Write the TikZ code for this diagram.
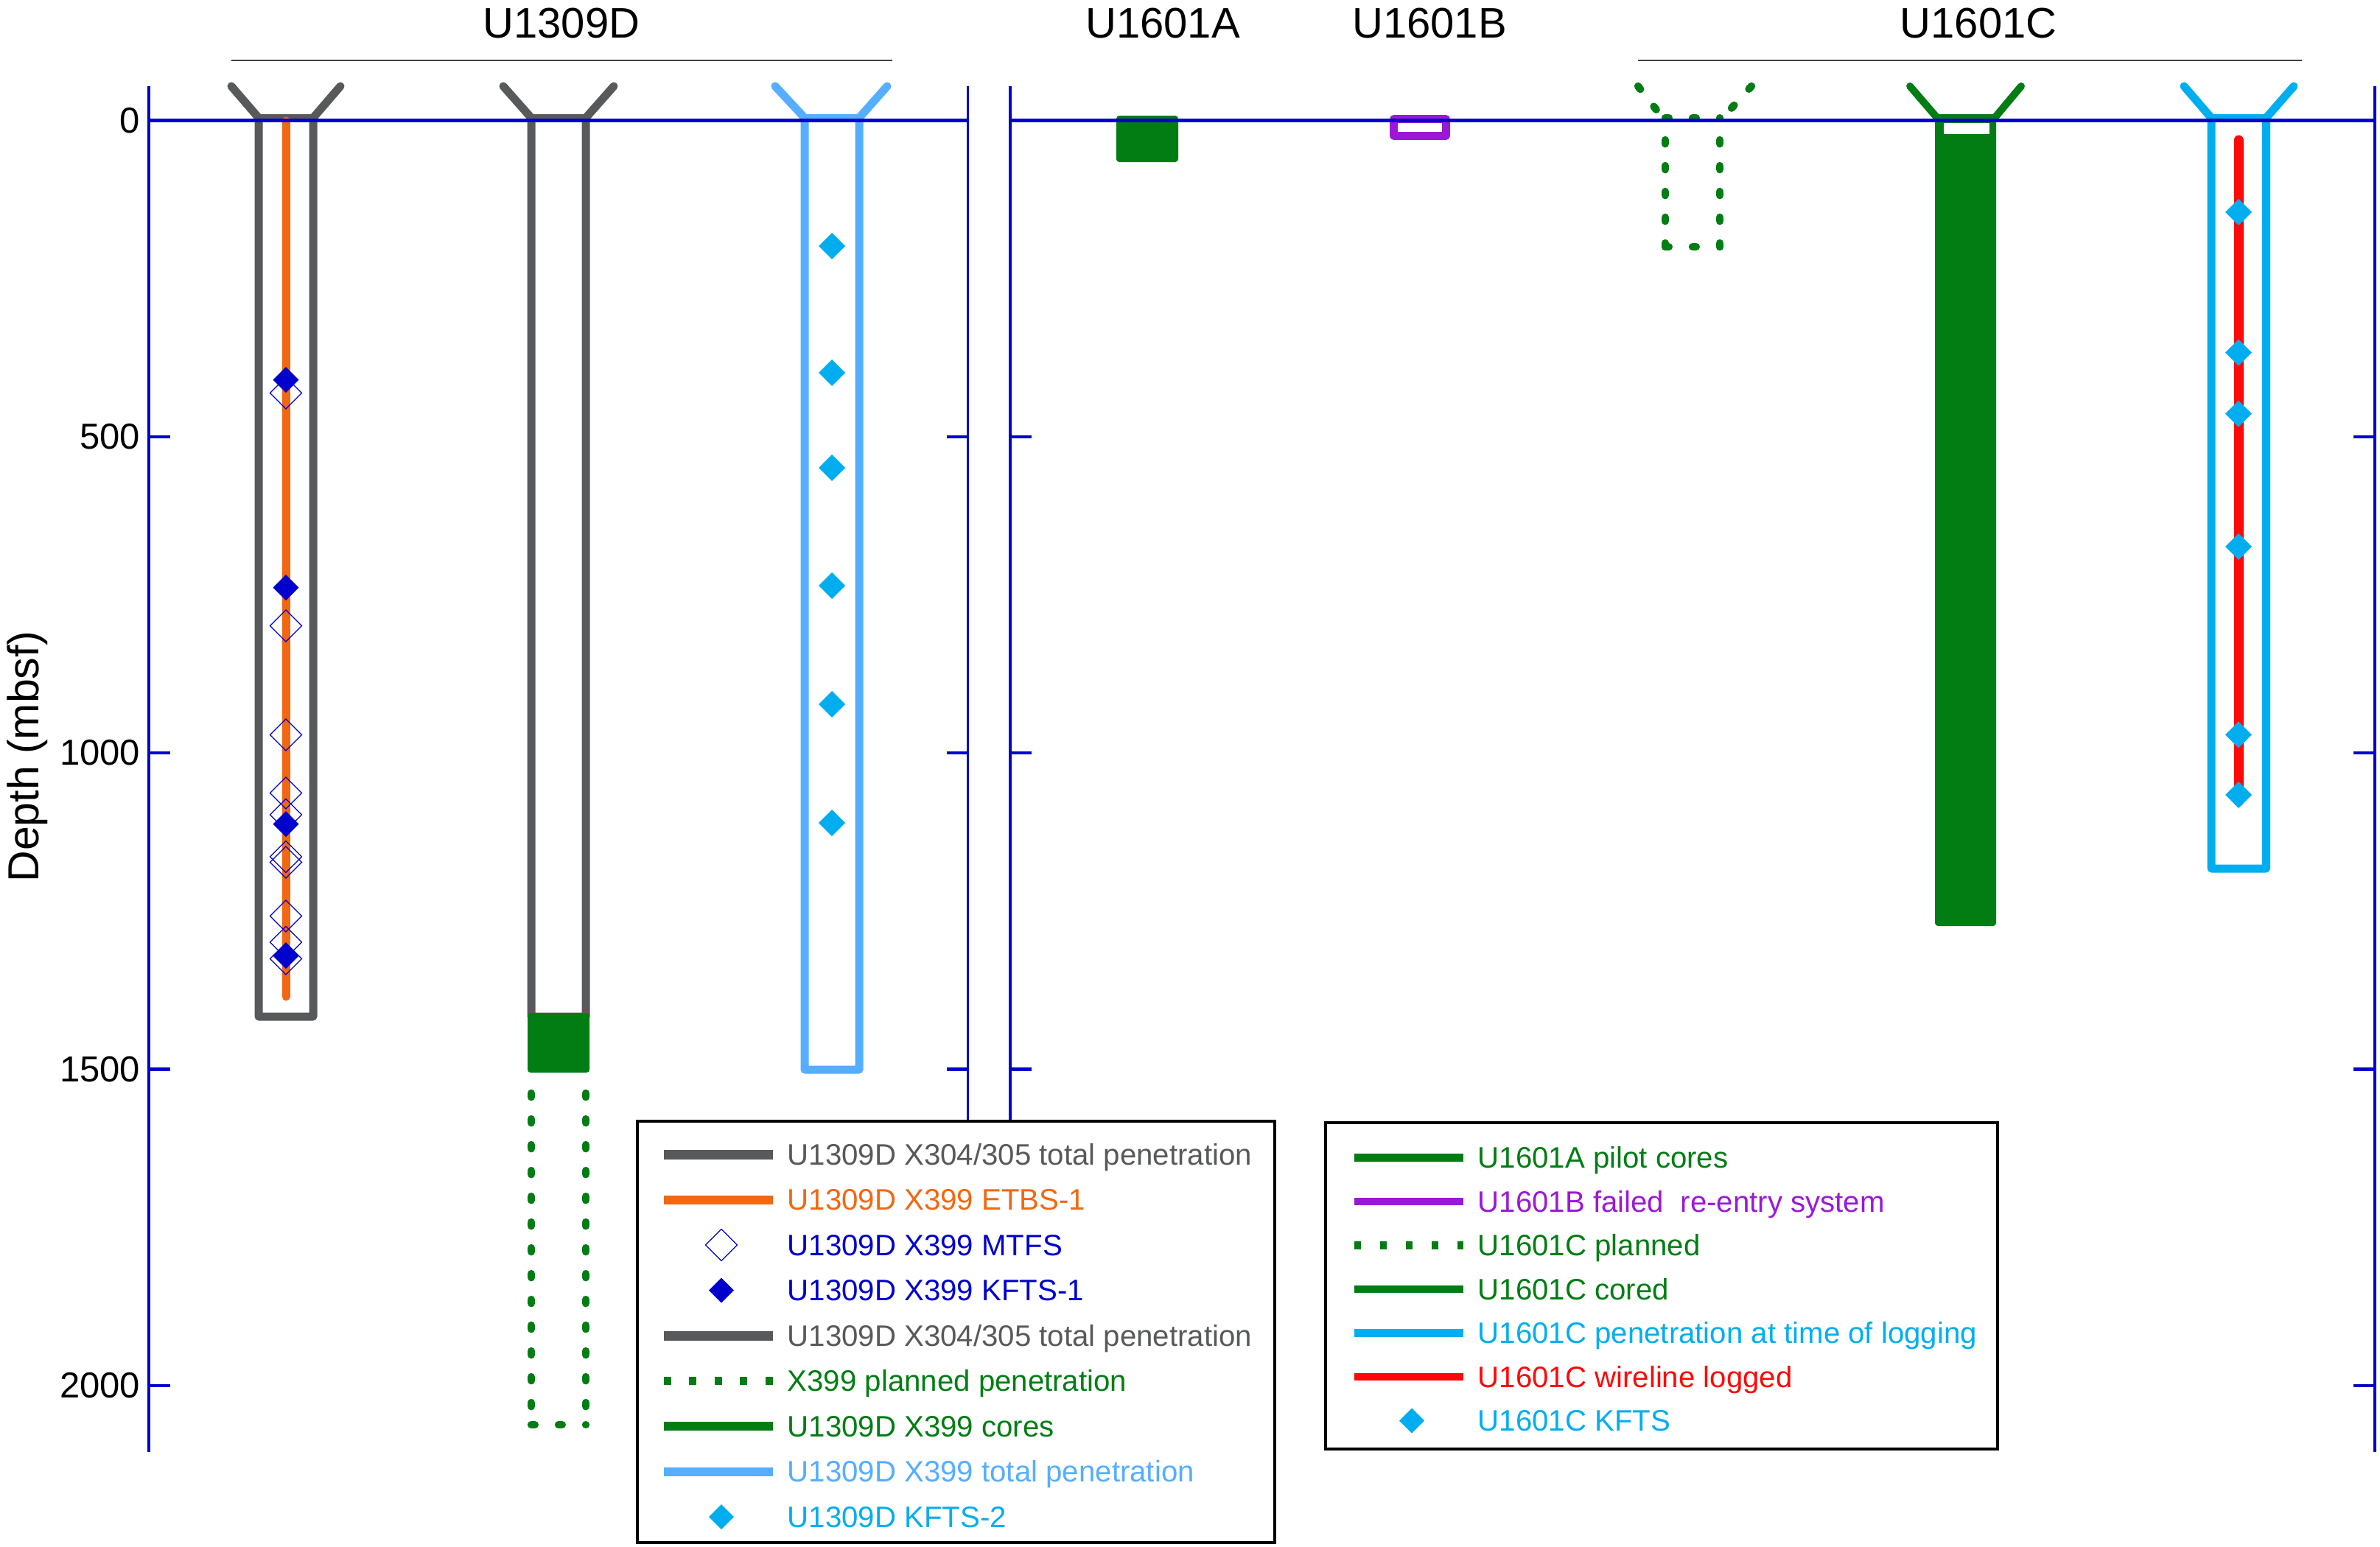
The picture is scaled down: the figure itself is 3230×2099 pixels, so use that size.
\documentclass[tikz,border=0pt]{standalone}
\usepackage{fontspec}
\setmainfont{Liberation Sans}
\definecolor{caxis}{RGB}{0,0,205}
\definecolor{cgray}{RGB}{88,89,91}
\definecolor{corange}{RGB}{242,103,18}
\definecolor{cgreen}{RGB}{2,125,20}
\definecolor{clblue}{RGB}{85,174,255}
\definecolor{ccyan}{RGB}{0,174,239}
\definecolor{cred}{RGB}{255,8,8}
\definecolor{cpurple}{RGB}{155,25,214}
\definecolor{cdark}{RGB}{64,64,64}
\begin{document}
\begin{tikzpicture}[x=0.25pt,y=-0.25pt,
  holewall/.style={line width=2.75pt,line join=round,line cap=round},
  dotwall/.style={cgreen,line width=2.6pt,line cap=round,dash pattern=on 1.3pt off 7.45pt},
  dotbottom/.style={cgreen,line width=2.6pt,line cap=round,dash pattern=on 1.2pt off 8.05pt},
  axisline/.style={caxis,line width=0.85pt},
  tickline/.style={caxis,line width=1.1pt},
  zeroline/.style={caxis,line width=1.35pt},
  bracketline/.style={cdark,line width=0.6pt},
  titletext/.style={anchor=base,inner sep=0pt,font=\fontsize{14.5}{17}\selectfont},
  ticklabel/.style={anchor=east,inner sep=0pt,font=\fontsize{12.25}{14}\selectfont},
  legtext/.style={anchor=base west,inner sep=0pt,font=\fontsize{10.05}{12}\selectfont},
  legbox/.style={draw=black,fill=white,line width=1pt},
  legline/.style={line width=3pt},
  legdots/.style={cgreen,line width=2.9pt,dash pattern=on 2.5pt off 6.15pt}
]
\useasboundingbox (0,0) rectangle (3230,2099);

% ---------- titles ----------
\node[titletext] (t1309) at (762,51) {U1309D};
\node[titletext] (t1601a) at (1578,51) {U1601A};
\node[titletext] (t1601b) at (1940,51) {U1601B};
\node[titletext] (t1601c) at (2685,51) {U1601C};
\draw[bracketline] (314,82) -- (1211,82);
\draw[bracketline] (2223,82) -- (3124,82);

% ---------- U1309D hole 1 (X304/305) ----------
\draw[holewall,cgray] (314,117) -- (351,160) -- (351,1380) -- (425,1380) -- (425,160) -- (462,117);
\draw[holewall,cgray] (351,160) -- (425,160);

% ---------- U1309D hole 2 (X304/305 + X399 cores + planned) ----------
\draw[holewall,cgray] (683,117) -- (721,160) -- (721,1380) -- (795,1380) -- (795,160) -- (833,117);
\draw[holewall,cgray] (721,160) -- (795,160);
\fill[cgreen,rounded corners=1pt] (716,1375) rectangle (800,1456);
\draw[dotwall] (721,1484) -- (721,1934);
\draw[dotwall] (795,1484) -- (795,1934);
\draw[dotbottom] (721,1934) -- (795,1934);

% ---------- U1309D hole 3 (X399 total penetration) ----------
\draw[holewall,clblue] (1052,117) -- (1092,160) -- (1092,1452) -- (1166,1452) -- (1166,160) -- (1204,117);
\draw[holewall,clblue] (1092,160) -- (1166,160);

% ---------- U1601A ----------
\fill[cgreen,rounded corners=1pt] (1515,157) rectangle (1599,220);

% ---------- U1601B ----------
\draw[cpurple,line width=2.75pt,line join=round] (1891.5,161.5) rectangle (1962.5,184.5);

% ---------- U1601C planned ----------
\draw[dotwall] (2223,117) -- (2258,162);
\draw[dotwall] (2377,117) -- (2336,162);
\draw[dotbottom] (2260,160) -- (2334,160);
\draw[dotwall] (2260,190) -- (2260,335);
\draw[dotwall] (2334,190) -- (2334,335);
\draw[dotbottom] (2260,335) -- (2334,335);

% ---------- U1601C cored ----------
\draw[cgreen,line width=2.5pt,line cap=round,line join=round] (2592,117) -- (2629,160) -- (2707,160) -- (2743,117);
\fill[cgreen,rounded corners=1pt] (2626,156) rectangle (2709,1257);
\fill[white] (2638,167) rectangle (2700,182);

% ---------- U1601C penetration at time of logging ----------
\draw[holewall,ccyan] (2964,117) -- (3001,160) -- (3001,1179) -- (3075.5,1179) -- (3075.5,160) -- (3113,117);
\draw[holewall,ccyan] (3001,160) -- (3075.5,160);
\draw[cred,line width=3.25pt,line cap=round] (3038,190) -- (3038,1088);

% ---------- ETBS-1 ----------
\draw[corange,line width=2.75pt,line cap=round] (388,164) -- (388,1353);

% ---------- axes ----------
\draw[zeroline] (202,163.5) -- (1313.5,163.5);
\draw[zeroline] (1371,163.5) -- (3223,163.5);
\draw[axisline] (202,117) -- (202,1971);
\draw[axisline] (1313.5,117) -- (1313.5,1971);
\draw[axisline] (1371,117) -- (1371,1971);
\draw[axisline] (3223,117) -- (3223,1971);
\foreach \yy in {163.5,592.8,1022.1,1451.4,1880.7} {
  \draw[tickline] (202,\yy) -- (231,\yy);
  \draw[tickline] (1313.5,\yy) -- (1284.5,\yy);
  \draw[tickline] (1371,\yy) -- (1400,\yy);
  \draw[tickline] (3223,\yy) -- (3194,\yy);
}
\node[ticklabel] (l0) at (191,163.5) {0};
\node[ticklabel] (l500) at (191,592.8) {500};
\node[ticklabel] (l1000) at (191,1022.1) {1000};
\node[ticklabel] (l1500) at (191,1451.4) {1500};
\node[ticklabel] (l2000) at (191,1880.7) {2000};
\node[anchor=base,inner sep=0pt,rotate=90,font=\fontsize{14.75}{17}\selectfont] (ylab) at (52,1027) {Depth (mbsf)};

% ---------- markers ----------
\foreach \yy in {533.5,849.5,997.5,1076.5,1106,1163,1170.5,1243.5,1279,1301.5}
  \draw[caxis,line width=0.3pt] (388,\yy) ++(0,-21.5) -- ++(21.5,21.5) -- ++(-21.5,21.5) -- ++(-21.5,-21.5) -- cycle;
\foreach \yy in {515.5,797.7,1118.5,1297.5}
  \fill[caxis] (388,\yy) ++(0,-17.5) -- ++(17.5,17.5) -- ++(-17.5,17.5) -- ++(-17.5,-17.5) -- cycle;
\foreach \yy in {334,506,635,795,956,1117}
  \fill[ccyan] (1129,\yy) ++(0,-18) -- ++(18,18) -- ++(-18,18) -- ++(-18,-18) -- cycle;
\foreach \yy in {288,478.6,561.6,742,997.4,1079}
  \fill[ccyan] (3038,\yy) ++(0,-18) -- ++(18,18) -- ++(-18,18) -- ++(-18,-18) -- cycle;

% ---------- legend 1 ----------
\draw[legbox] (864.6,1522) rectangle (1730,2094);
\draw[legline,cgray,line width=3.25pt] (900.5,1567) -- (1049,1567);
\node[legtext,text=cgray] (a1) at (1068,1581) {U1309D X304/305 total penetration};
\draw[legline,corange] (900.5,1628.5) -- (1049,1628.5);
\node[legtext,text=corange] (a2) at (1068,1642.5) {U1309D X399 ETBS-1};
\draw[caxis,line width=0.3pt] (979,1690) ++(0,-21.5) -- ++(21.5,21.5) -- ++(-21.5,21.5) -- ++(-21.5,-21.5) -- cycle;
\node[legtext,text=caxis] (a3) at (1068,1704) {U1309D X399 MTFS};
\fill[caxis] (979,1751.5) ++(0,-17) -- ++(17,17) -- ++(-17,17) -- ++(-17,-17) -- cycle;
\node[legtext,text=caxis] (a4) at (1068,1765.5) {U1309D X399 KFTS-1};
\draw[legline,cgray,line width=3.25pt] (900.5,1813) -- (1049,1813);
\node[legtext,text=cgray] (a5) at (1068,1827) {U1309D X304/305 total penetration};
\draw[legdots] (900.5,1874.5) -- (1049,1874.5);
\node[legtext,text=cgreen] (a6) at (1068,1888.5) {X399 planned penetration};
\draw[legline,cgreen] (900.5,1936) -- (1049,1936);
\node[legtext,text=cgreen] (a7) at (1068,1950) {U1309D X399 cores};
\draw[legline,clblue] (900.5,1997.5) -- (1049,1997.5);
\node[legtext,text=clblue] (a8) at (1068,2011.5) {U1309D X399 total penetration};
\fill[ccyan] (979,2059) ++(0,-17) -- ++(17,17) -- ++(-17,17) -- ++(-17,-17) -- cycle;
\node[legtext,text=ccyan] (a9) at (1068,2073) {U1309D KFTS-2};

% ---------- legend 2 ----------
\draw[legbox] (1799,1524) rectangle (2711,1967);
\draw[legline,cgreen,line width=2.7pt] (1838,1571.7) -- (1986,1571.7);
\node[legtext,text=cgreen] (b1) at (2005,1585.7) {U1601A pilot cores};
\draw[legline,cpurple,line width=2.7pt] (1838,1631) -- (1986,1631);
\node[legtext,text=cpurple] (b2) at (2005,1645) {U1601B failed~ re-entry system};
\draw[legdots,line width=2.7pt,dash pattern=on 2.3pt off 6.45pt] (1838,1690.5) -- (1986,1690.5);
\node[legtext,text=cgreen] (b3) at (2005,1704.5) {U1601C planned};
\draw[legline,cgreen,line width=2.7pt] (1838,1750) -- (1986,1750);
\node[legtext,text=cgreen] (b4) at (2005,1764) {U1601C cored};
\draw[legline,ccyan,line width=2.7pt] (1838,1809.5) -- (1986,1809.5);
\node[legtext,text=ccyan] (b5) at (2005,1823.5) {U1601C penetration at time of logging};
\draw[legline,cred,line width=2.7pt] (1838,1869) -- (1986,1869);
\node[legtext,text=cred] (b6) at (2005,1883) {U1601C wireline logged};
\fill[ccyan] (1916,1928.5) ++(0,-17) -- ++(17,17) -- ++(-17,17) -- ++(-17,-17) -- cycle;
\node[legtext,text=ccyan] (b7) at (2005,1942.5) {U1601C KFTS};
\end{tikzpicture}
\end{document}
